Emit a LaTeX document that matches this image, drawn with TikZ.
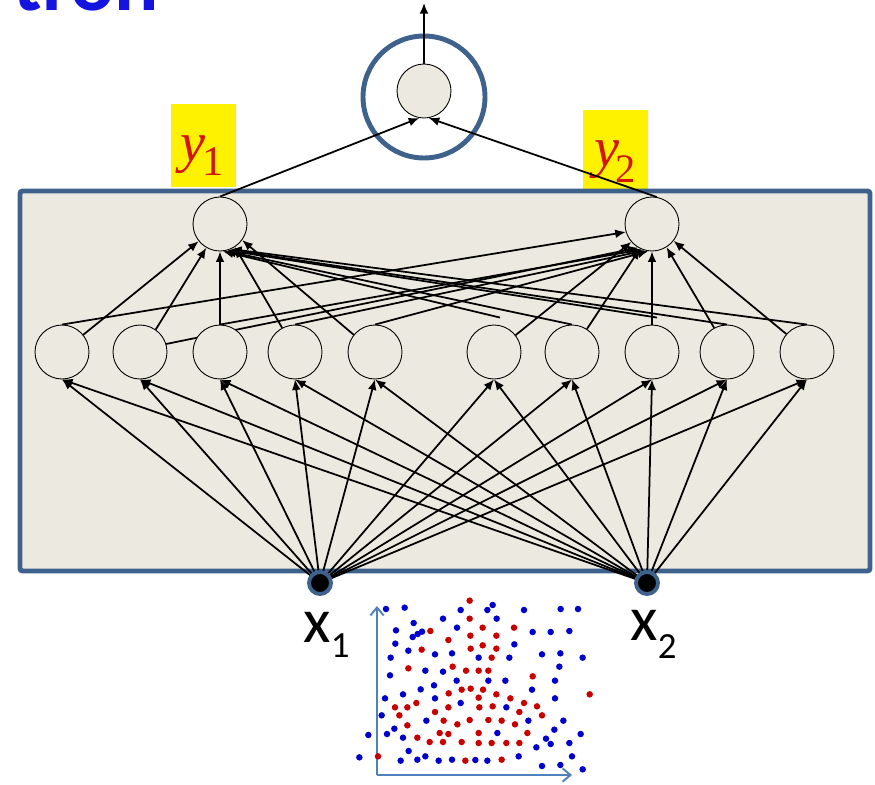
\documentclass[tikz,border=0pt]{standalone}
\usepackage{fontspec}
\setmainfont{Liberation Serif}
\newfontfamily\calibrif{Carlito}
\newfontfamily\timesf{Liberation Serif}
\usetikzlibrary{arrows.meta,calc}
\pgfdeclarelayer{bgA}
\pgfdeclarelayer{bgB}
\pgfsetlayers{bgA,bgB,main}
\definecolor{framec}{RGB}{62,98,140}
\definecolor{paper}{RGB}{236,234,224}
\definecolor{ttlblue}{RGB}{20,20,225}
\definecolor{labred}{RGB}{210,20,10}
\definecolor{axisc}{RGB}{79,129,189}
\definecolor{rdot}{RGB}{200,0,0}
\definecolor{bdot}{RGB}{0,0,205}
\begin{document}
\begin{tikzpicture}[x=0.02cm,y=-0.02cm,
  unit/.style={circle,draw=black,line width=0.5pt,fill=paper,minimum size=1.08cm,inner sep=0pt},
  conn/.style={line width=1pt,-{Latex[length=6pt,width=5pt]}},
  indot/.style={circle,fill=black,draw=framec,line width=2.2pt,minimum size=0.44cm,inner sep=0pt},
  ring/.style={circle,draw=framec,line width=2.8pt,minimum size=2.44cm,inner sep=0pt},
  ybox/.style={rectangle,fill=yellow,minimum width=1.3cm,minimum height=1.66cm,inner sep=0pt},
  axisline/.style={draw=axisc,line width=1.1pt,-{Straight Barb[length=4.5pt,width=7.5pt]}},
  txt/.style={anchor=base west,inner sep=0pt}]
\useasboundingbox (0,0) rectangle (875,784);

% title fragment
\node[txt,text=ttlblue] (ttl) at (13,11) {\calibrif\bfseries\fontsize{47}{47}\selectfont tron};

% nodes
\foreach \i/\xx in {1/62,2/140,3/220,4/295,5/375,6/494,7/572,8/652,9/727,10/807}
  \node[unit] (h\i) at (\xx,352) {};
\node[unit] (y1) at (220,224) {};
\node[unit] (y2) at (652,224) {};
\node[unit] (out) at (424,91) {};
\node[indot] (x1) at (320,583) {};
\node[indot] (x2) at (647,583) {};
\coordinate (topend) at (424,3);

\begin{pgfonlayer}{bgA}
  \node[ybox] (b1) at (203.5,145.5) {};
  \node[ybox] (b2) at (615.5,151.5) {};
  \node[txt,text=labred] (t1) at (180,161) {\timesf\fontsize{32}{32}\selectfont\itshape y\kern-1.5pt\raisebox{-8.5pt}{\upshape\fontsize{24}{24}\selectfont 1}};
  \node[txt,text=labred] (t2) at (594,166) {\timesf\fontsize{32}{32}\selectfont\itshape y\kern-2pt\raisebox{-9.5pt}{\upshape\fontsize{23}{23}\selectfont 2}};
  \path[draw=framec,fill=paper,line width=2.8pt,rounded corners=1.5pt] (20,191) rectangle (870,571);
  \node[ring] (ringc) at (424,97) {};
\end{pgfonlayer}

\begin{pgfonlayer}{bgB}
  % inputs to first hidden layer
  \foreach \i in {1,...,10} {
    \draw[conn] (x1.center) -- (h\i.south);
    \draw[conn] (x2.center) -- (h\i.south);
  }
  % first hidden layer to y1
  \draw[conn] (h1.39) -- (y1.-141);
  \draw[conn] (h2.55) -- (y1.-120);
  \draw[conn] (h3.north) -- (y1.-90);
  \draw[conn] (h4.118) -- (y1.-57);
  \draw[conn] (h5.141) -- (y1.-36);
  \draw[conn] ([shift={(6,-7)}]h6.north) -- (y1.-84);
  \draw[conn] (h7.north) -- (y1.-79);
  \draw[conn] ([shift={(5,-7)}]h8.north) -- (y1.-74);
  \draw[conn] (h9.north) -- (y1.-70);
  \draw[conn] (h10.north) -- (y1.-66);
  % first hidden layer to y2
  \draw[conn] (h1.north) -- (y2.-163);
  \draw[conn] (h2.17) -- (y2.-120);
  \draw[conn] (h3.north) -- (y2.-112);
  \draw[conn] (h4.north) -- (y2.-105);
  \draw[conn] (h5.north) -- (y2.-98);
  \draw[conn] (h6.38) -- (y2.-139);
  \draw[conn] (h7.57) -- (y2.-116);
  \draw[conn] (h8.north) -- (y2.-90);
  \draw[conn] (h9.118) -- (y2.-58);
  \draw[conn] (h10.139) -- (y2.-38);
  % to output
  \draw[conn] (y1.north) -- (out.-100);
  \draw[conn] (y2.80) -- (out.-80);
  \draw[conn] (out.north) -- (topend);
\end{pgfonlayer}

% input labels
\node[txt] (lx1) at (303,642) {\calibrif\fontsize{36}{36}\selectfont x\raisebox{-9pt}{\fontsize{21}{21}\selectfont 1}};
\node[txt] (lx2) at (630,640) {\calibrif\fontsize{36}{36}\selectfont x\raisebox{-10.5pt}{\fontsize{21}{21}\selectfont 2}};

% scatter plot
\coordinate (org) at (377,775);
\coordinate (ytop) at (377,606);
\coordinate (xend) at (572,775);
\draw[axisline] (org) -- (ytop);
\draw[axisline] (org) -- (xend);
\foreach \a/\b in {318/147,374/143,542/150,622/150,638/135,650/176,732/150,842/147,894/147,
  401/189,348/211,398/231,413/222,426/215,489/176,531/203,758/216,812/216,868/213,
  346/251,385/272,465/283,516/280,596/293,688/293,703/253,786/283,841/280,908/293,
  332/293,330/346,436/332,489/335,530/362,625/362,676/362,838/320,825/362,
  315/415,369/403,422/388,462/376,465/415,542/429,679/442,756/389,825/415,
  305/466,439/482,745/482,850/482,
  265/525,321/522,343/506,369/533,652/519,798/536,812/552,823/509,868/549,902/522,
  238/592,362/602,386/573,412/599,436/589,476/602,516/599,586/600,622/602,716/589,769/562,786/618,841/615,876/589,908/628}
  \fill[bdot] ({280+\a/3},{560+\b/3}) circle[radius=0.065cm];
\foreach \a/\b in {569/122,569/176,451/213,505/240,571/227,608/203,649/227,702/203,
  425/269,572/266,608/256,649/266,635/293,
  385/325,518/320,558/332,596/332,625/332,758/349,
  545/389,572/386,609/389,506/400,596/413,649/403,691/415,929/403,
  345/442,382/442,409/429,505/442,598/442,638/439,732/429,771/439,
  358/466,465/456,718/456,786/466,
  382/496,491/482,532/493,569/480,625/480,665/482,705/493,
  479/519,505/522,596/519,742/519,
  412/533,449/546,489/546,545/546,596/549,635/549,679/549,718/549,
  294/589,556/602,665/599}
  \fill[rdot] ({280+\a/3},{560+\b/3}) circle[radius=0.065cm];
\end{tikzpicture}
\end{document}
